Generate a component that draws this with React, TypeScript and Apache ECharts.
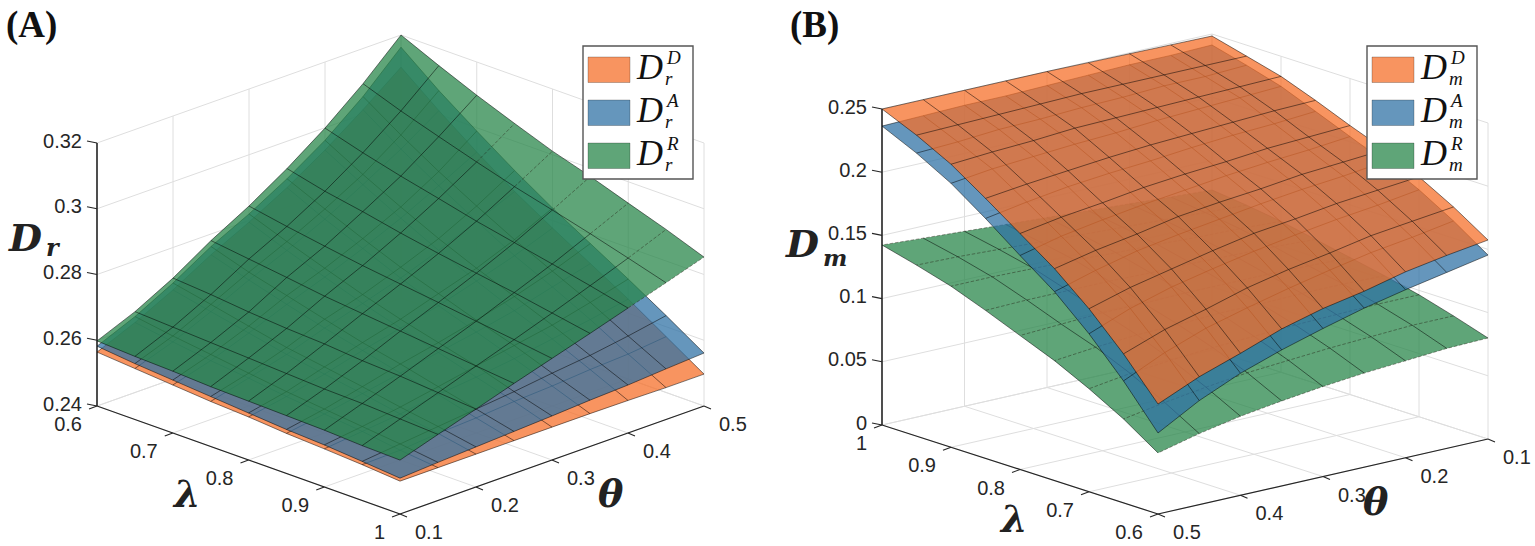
import React, { useEffect, useRef } from "react";
import * as echarts from "echarts";

const LAMBDA_VALUES = [0.6, 0.65, 0.7, 0.75, 0.8, 0.85, 0.9, 0.95, 1];
const THETA_VALUES = [0.1, 0.15, 0.2, 0.25, 0.3, 0.35, 0.4, 0.45, 0.5];
const LAMBDA_TICKS = [0.6, 0.7, 0.8, 0.9, 1];
const THETA_TICKS = [0.1, 0.2, 0.3, 0.4, 0.5];
const DR_TICKS = [0.24, 0.26, 0.28, 0.3, 0.32];
const DM_TICKS = [0, 0.05, 0.1, 0.15, 0.2, 0.25];

// rows: lambda 0.6 -> 1, columns: theta 0.1 -> 0.5
const DR_D = [
  [0.2564, 0.2613, 0.2671, 0.2737, 0.2795, 0.2859, 0.2932, 0.3014, 0.3102],
  [0.2555, 0.2595, 0.2646, 0.2701, 0.275, 0.2804, 0.2868, 0.2935, 0.3011],
  [0.2546, 0.2579, 0.2622, 0.2668, 0.271, 0.2756, 0.2807, 0.2865, 0.2926],
  [0.2537, 0.2567, 0.2598, 0.2637, 0.2671, 0.2707, 0.275, 0.2798, 0.2847],
  [0.2531, 0.2552, 0.2579, 0.261, 0.2637, 0.2664, 0.2698, 0.2734, 0.2777],
  [0.2522, 0.254, 0.2561, 0.2582, 0.2604, 0.2625, 0.2649, 0.268, 0.271],
  [0.2516, 0.2528, 0.254, 0.2558, 0.257, 0.2585, 0.2604, 0.2622, 0.2643],
  [0.2509, 0.2512, 0.2522, 0.2528, 0.2537, 0.2543, 0.2552, 0.2558, 0.257],
  [0.25, 0.25, 0.25, 0.25, 0.25, 0.25, 0.2499, 0.2497, 0.2497],
];
const DR_A = [
  [0.2582, 0.2631, 0.2692, 0.2762, 0.282, 0.2886, 0.2962, 0.3054, 0.3163],
  [0.257, 0.2613, 0.2668, 0.2725, 0.2777, 0.2835, 0.2899, 0.2978, 0.3072],
  [0.2561, 0.2598, 0.2643, 0.2695, 0.2737, 0.2786, 0.2841, 0.2908, 0.299],
  [0.2552, 0.2582, 0.2619, 0.2664, 0.2698, 0.274, 0.2786, 0.2844, 0.2911],
  [0.2543, 0.2567, 0.2601, 0.2634, 0.2664, 0.2701, 0.2737, 0.2783, 0.2838],
  [0.2534, 0.2555, 0.2582, 0.261, 0.2634, 0.2661, 0.2692, 0.2728, 0.2771],
  [0.2528, 0.2543, 0.2561, 0.2582, 0.2604, 0.2625, 0.2646, 0.2674, 0.2704],
  [0.2519, 0.2531, 0.2543, 0.2555, 0.2567, 0.2582, 0.2595, 0.2613, 0.2634],
  [0.2509, 0.2516, 0.2522, 0.2528, 0.2534, 0.2541, 0.2546, 0.2554, 0.2561],
];
const DR_R = [
  [0.2598, 0.2646, 0.2707, 0.278, 0.2844, 0.2917, 0.2999, 0.3093, 0.32],
  [0.2592, 0.264, 0.2698, 0.2765, 0.2823, 0.2889, 0.2965, 0.3051, 0.3148],
  [0.2588, 0.2634, 0.2686, 0.275, 0.2804, 0.2868, 0.2935, 0.3014, 0.3099],
  [0.2582, 0.2628, 0.2677, 0.2734, 0.2786, 0.2844, 0.2908, 0.2978, 0.3054],
  [0.2579, 0.2622, 0.2671, 0.2722, 0.2771, 0.2823, 0.288, 0.2944, 0.3011],
  [0.2576, 0.2616, 0.2661, 0.271, 0.2756, 0.2804, 0.2856, 0.2914, 0.2975],
  [0.2573, 0.2613, 0.2655, 0.2698, 0.274, 0.2786, 0.2832, 0.2883, 0.2935],
  [0.2567, 0.2607, 0.2646, 0.2686, 0.2725, 0.2765, 0.2807, 0.285, 0.2896],
  [0.2564, 0.2601, 0.2637, 0.2674, 0.2709, 0.2744, 0.278, 0.2816, 0.2853],
];
const DM_D = [
  [0.1574, 0.1527, 0.1471, 0.1392, 0.1329, 0.1242, 0.1123, 0.1012, 0.087],
  [0.1748, 0.1709, 0.1669, 0.1606, 0.155, 0.1479, 0.1384, 0.1297, 0.1179],
  [0.1898, 0.1867, 0.1835, 0.1788, 0.1748, 0.1685, 0.1614, 0.1542, 0.1448],
  [0.2025, 0.2001, 0.1978, 0.1938, 0.1906, 0.1867, 0.1803, 0.1748, 0.1677],
  [0.2128, 0.2112, 0.2096, 0.2065, 0.2041, 0.2009, 0.1962, 0.1922, 0.1867],
  [0.2239, 0.2231, 0.2215, 0.2199, 0.2183, 0.2159, 0.2128, 0.2096, 0.2057],
  [0.2341, 0.2333, 0.2326, 0.2318, 0.231, 0.2302, 0.2278, 0.2262, 0.2239],
  [0.2413, 0.2413, 0.2413, 0.2413, 0.2413, 0.2405, 0.2397, 0.2389, 0.2381],
  [0.2484, 0.2488, 0.2492, 0.2496, 0.25, 0.25, 0.25, 0.25, 0.25],
];
const DM_A = [
  [0.1455, 0.1392, 0.1329, 0.1258, 0.1171, 0.1076, 0.0965, 0.0823, 0.0641],
  [0.1637, 0.1582, 0.1535, 0.1471, 0.14, 0.1321, 0.1234, 0.1115, 0.0965],
  [0.1796, 0.1748, 0.1709, 0.1661, 0.1606, 0.1542, 0.1471, 0.1376, 0.125],
  [0.193, 0.189, 0.1859, 0.1819, 0.1772, 0.1724, 0.1669, 0.159, 0.1495],
  [0.2041, 0.2009, 0.1985, 0.1954, 0.1914, 0.1875, 0.1827, 0.1772, 0.1693],
  [0.2152, 0.2128, 0.2112, 0.2088, 0.2057, 0.2033, 0.2001, 0.1954, 0.1898],
  [0.2262, 0.2246, 0.2231, 0.2215, 0.2191, 0.2175, 0.2152, 0.2128, 0.2088],
  [0.2341, 0.2326, 0.2326, 0.231, 0.2302, 0.2286, 0.2278, 0.2254, 0.2239],
  [0.2413, 0.2405, 0.2405, 0.2397, 0.2389, 0.2381, 0.2381, 0.2373, 0.2365],
];
const DM_R = [
  [0.0799, 0.0791, 0.0767, 0.0744, 0.0712, 0.0672, 0.0625, 0.0562, 0.0483],
  [0.0886, 0.0886, 0.087, 0.0854, 0.0831, 0.0807, 0.0767, 0.072, 0.0664],
  [0.0965, 0.0965, 0.0957, 0.0949, 0.0933, 0.0918, 0.0894, 0.0862, 0.0815],
  [0.1028, 0.1036, 0.1036, 0.1028, 0.1028, 0.1012, 0.1005, 0.0981, 0.0949],
  [0.1084, 0.1092, 0.1099, 0.1099, 0.1099, 0.1092, 0.1092, 0.1076, 0.106],
  [0.1139, 0.1155, 0.1163, 0.1171, 0.1171, 0.1179, 0.1179, 0.1179, 0.1171],
  [0.1194, 0.121, 0.1218, 0.1234, 0.1242, 0.1258, 0.1266, 0.1274, 0.1274],
  [0.1234, 0.125, 0.1266, 0.1281, 0.1297, 0.1313, 0.1329, 0.1345, 0.1353],
  [0.1266, 0.1285, 0.1305, 0.1325, 0.1345, 0.1364, 0.1384, 0.1404, 0.1424],
];

const ORANGE = "rgba(245,111,40,0.74)";
const BLUE = "rgba(47,113,165,0.74)";
const GREEN = "rgba(39,134,73,0.74)";
const GRID = "#dedede";
const INK = "#262626";
const SANS = '"Liberation Sans", Arial, sans-serif';
const SERIF = '"Liberation Serif", serif';
const MATH = '"DejaVu Serif", serif';

const panelA = {
  id: "A",
  origin: [97, 406], lam: [303, 108], th: [304, -108], up: [0, -263],
  zMin: 0.24, zMax: 0.32, zTicks: DR_TICKS,
  wallLam: 0.6, wallTheta: 0.5, lamAxisTheta: 0.1, thAxisLam: 1,
};
const panelB = {
  id: "B",
  origin: [1488, 439], lam: [-276, -89], th: [-330, 75], up: [0, -316],
  zMin: 0, zMax: 0.25, zTicks: DM_TICKS,
  wallLam: 1, wallTheta: 0.1, lamAxisTheta: 0.5, thAxisLam: 0.6,
};

function project(p: any, l: number, t: number, z: number) {
  const u = (l - 0.6) / 0.4;
  const v = (t - 0.1) / 0.4;
  const w = (z - p.zMin) / (p.zMax - p.zMin);
  return [
    p.origin[0] + u * p.lam[0] + v * p.th[0] + w * p.up[0],
    p.origin[1] + u * p.lam[1] + v * p.th[1] + w * p.up[1],
  ];
}

function boxSeries(p: any) {
  return {
    type: "custom",
    name: `axes ${p.id}`,
    silent: true,
    coordinateSystem: "cartesian2d",
    data: [[0, 0]],
    renderItem: (_: any, api: any) => {
      const P = (l: number, t: number, z: number) => api.coord(project(p, l, t, z));
      const kids: any[] = [];
      const seg = (a: number[], b: number[], stroke: string, lineWidth: number) =>
        kids.push({ type: "line", shape: { x1: a[0], y1: a[1], x2: b[0], y2: b[1] }, style: { stroke, lineWidth } });
      const label = (text: string, at: number[], align: string) =>
        kids.push({
          type: "text",
          style: { text, x: at[0], y: at[1], align, verticalAlign: "middle", fontFamily: SANS, fontSize: 20, fill: INK },
        });
      p.zTicks.forEach((z: number) => {
        seg(P(p.wallLam, p.lamAxisTheta, z), P(p.wallLam, p.wallTheta, z), GRID, 1);
        seg(P(p.wallLam, p.wallTheta, z), P(p.thAxisLam, p.wallTheta, z), GRID, 1);
      });
      LAMBDA_TICKS.forEach((l) => {
        seg(P(l, p.wallTheta, p.zMin), P(l, p.wallTheta, p.zMax), GRID, 1);
        seg(P(l, p.lamAxisTheta, p.zMin), P(l, p.wallTheta, p.zMin), GRID, 1);
      });
      THETA_TICKS.forEach((t) => {
        seg(P(p.wallLam, t, p.zMin), P(p.wallLam, t, p.zMax), GRID, 1);
        seg(P(p.thAxisLam, t, p.zMin), P(p.wallLam, t, p.zMin), GRID, 1);
      });
      seg(P(p.wallLam, p.lamAxisTheta, p.zMin), P(p.wallLam, p.lamAxisTheta, p.zMax), INK, 1.6);
      seg(P(0.6, p.lamAxisTheta, p.zMin), P(1, p.lamAxisTheta, p.zMin), INK, 1.2);
      seg(P(p.thAxisLam, 0.1, p.zMin), P(p.thAxisLam, 0.5, p.zMin), INK, 1.2);
      p.zTicks.forEach((z: number) => {
        const a = P(p.wallLam, p.lamAxisTheta, z);
        seg(a, [a[0] - 10, a[1] - 2], INK, 1.1);
        label(String(z), [a[0] - 15, a[1] - 2.5], "right");
      });
      LAMBDA_TICKS.forEach((l) => {
        const a = P(l, p.lamAxisTheta, p.zMin);
        seg(a, [a[0] - 8, a[1] + 3], INK, 1.1);
        label(String(l), [a[0] - 15, a[1] + 18], "right");
      });
      THETA_TICKS.forEach((t) => {
        const a = P(p.thAxisLam, t, p.zMin);
        seg(a, [a[0] + 7, a[1] + 3], INK, 1.1);
        label(String(t), [a[0] + 15, a[1] + 18], "left");
      });
      return { type: "group", children: kids };
    },
  };
}

// which stretches of the constant-lambda mesh lines are drawn broken
const exposedA = (a: number[], b: number[]) => (a[1] + b[1]) / 2 < 48 + ((a[0] + b[0]) / 2 - 400) * 1.003;
const exposedAll = () => true;
const exposedNone = () => false;

function surfaceSeries(p: any, name: string, table: number[][], fill: string, broken: any) {
  const nodes: number[][] = [];
  table.forEach((row, i) => row.forEach((z, j) => nodes.push([LAMBDA_VALUES[i], THETA_VALUES[j], z])));
  return {
    type: "custom",
    name,
    silent: true,
    coordinateSystem: "cartesian2d",
    data: nodes,
    renderItem: (params: any, api: any) => {
      if (params.dataIndex !== 0) return null;
      const n = LAMBDA_VALUES.length;
      const at = (i: number, j: number) => api.coord(project(p, LAMBDA_VALUES[i], THETA_VALUES[j], table[i][j]));
      const outline: number[][] = [];
      for (let j = 0; j < n; j++) outline.push(at(0, j));
      for (let i = 1; i < n; i++) outline.push(at(i, n - 1));
      for (let j = n - 2; j >= 0; j--) outline.push(at(n - 1, j));
      for (let i = n - 2; i > 0; i--) outline.push(at(i, 0));
      const kids: any[] = [{ type: "polygon", shape: { points: outline }, style: { fill, stroke: null } }];
      const mesh = (pts: number[][], dash: boolean) =>
        kids.push({
          type: "polyline",
          shape: { points: pts },
          style: {
            stroke: dash ? "rgba(30,20,10,0.45)" : "rgba(0,0,0,0.55)",
            lineWidth: 0.9,
            fill: null,
            lineDash: dash ? [3.5, 1.8] : null,
          },
        });
      for (let i = 0; i < n; i++) {
        let run: number[][] = [at(i, 0)];
        let mode = broken(at(i, 0), at(i, 1));
        for (let j = 1; j < n; j++) {
          const a = at(i, j - 1);
          const b = at(i, j);
          const m = broken(a, b);
          if (m !== mode) {
            mesh(run, mode);
            run = [a];
            mode = m;
          }
          run.push(b);
        }
        mesh(run, mode);
      }
      for (let j = 0; j < n; j++) {
        const pts: number[][] = [];
        for (let i = 0; i < n; i++) pts.push(at(i, j));
        mesh(pts, false);
      }
      return { type: "group", children: kids };
    },
  };
}

function txt(text: string, x: number, y: number, style: any) {
  return { type: "text", x, y, z: 100, style: { text, align: "left", verticalAlign: "middle", fill: "#111", ...style } };
}

function legend(x: number, sub: string) {
  const subFont = { fontFamily: SERIF, fontStyle: "italic", fontSize: 19 };
  const out: any[] = [
    {
      type: "rect", z: 90,
      shape: { x, y: 46, width: 110, height: 133 },
      style: { fill: "#fff", stroke: "#555", lineWidth: 1.4 },
    },
  ];
  [["D", ORANGE], ["A", BLUE], ["R", GREEN]].forEach(([sup, color], k) => {
    const top = 57 + 43 * k;
    out.push({
      type: "rect", z: 95,
      shape: { x: x + 5, y: top, width: 42, height: 25.5 },
      style: { fill: color, stroke: "rgba(0,0,0,0.3)", lineWidth: 0.8 },
    });
    out.push(txt("D", x + 54, top + 10, { fontFamily: SERIF, fontStyle: "italic", fontSize: 36 }));
    out.push(txt(sup, x + 84, top, subFont));
    out.push(txt(sub, x + 82, top + 21.5, subFont));
  });
  return out;
}

const BOLD_MATH = { fontFamily: MATH, fontStyle: "italic", fontWeight: "bold", fill: "#222" };
const graphics = [
  txt("(A)", 6, 24, { fontFamily: SERIF, fontWeight: "bold", fontSize: 37 }),
  txt("(B)", 790, 24, { fontFamily: SERIF, fontWeight: "bold", fontSize: 37 }),
  txt("D", 9, 237, { ...BOLD_MATH, fontSize: 38 }),
  txt("r", 46, 247, { ...BOLD_MATH, fontSize: 24 }),
  txt("λ", 174, 493, { ...BOLD_MATH, fontSize: 38 }),
  txt("θ", 598, 493, { ...BOLD_MATH, fontSize: 38 }),
  txt("D", 786, 243, { ...BOLD_MATH, fontSize: 38 }),
  txt("m", 823, 257, { ...BOLD_MATH, fontSize: 23 }),
  txt("λ", 1001, 518, { ...BOLD_MATH, fontSize: 38 }),
  txt("θ", 1363, 501, { ...BOLD_MATH, fontSize: 38 }),
  ...legend(583, "r"),
  ...legend(1367, "m"),
];

export default function App() {
  const ref = useRef<HTMLDivElement>(null);
  useEffect(() => {
    document.body.style.margin = "0";
    const chart = echarts.init(ref.current as HTMLDivElement, undefined, { renderer: "svg" });
    chart.setOption({
      animation: false,
      backgroundColor: "#fff",
      grid: { left: 0, right: 0, top: 0, bottom: 0 },
      xAxis: { type: "value", min: 0, max: 1535, show: false },
      yAxis: { type: "value", min: 0, max: 546, inverse: true, show: false },
      graphic: { elements: graphics },
      series: [
        boxSeries(panelA),
        surfaceSeries(panelA, "D_r^D", DR_D, ORANGE, exposedNone),
        surfaceSeries(panelA, "D_r^A", DR_A, BLUE, exposedNone),
        surfaceSeries(panelA, "D_r^R", DR_R, GREEN, exposedA),
        boxSeries(panelB),
        surfaceSeries(panelB, "D_m^R", DM_R, GREEN, exposedAll),
        surfaceSeries(panelB, "D_m^A", DM_A, BLUE, exposedNone),
        surfaceSeries(panelB, "D_m^D", DM_D, ORANGE, exposedNone),
      ],
    });
    return () => chart.dispose();
  }, []);
  return <div ref={ref} style={{ width: 1535, height: 546 }} />;
}
